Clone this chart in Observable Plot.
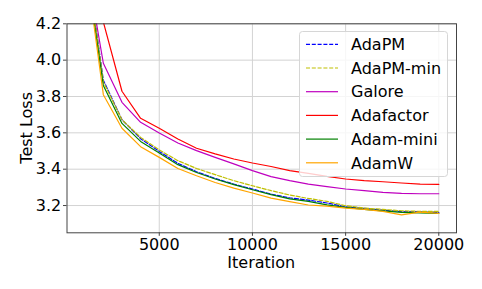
<!DOCTYPE html>
<html><head><meta charset="utf-8">
<script src="https://cdn.jsdelivr.net/npm/d3@7"></script>
<script src="https://cdn.jsdelivr.net/npm/@observablehq/plot@0.6"></script>
<style>html,body{margin:0;padding:0;background:#fff} svg{display:block}</style>
</head><body><div id="chart"></div>
<script>
const iterations = [1000,2000,3000,4000,5000,6000,7000,8000,9000,10000,11000,12000,13000,14000,15000,16000,17000,18000,19000,20000];
const adapm     = [4.62,3.89,3.672,3.568,3.498,3.432,3.386,3.349,3.318,3.291,3.263,3.242,3.230,3.214,3.193,3.184,3.175,3.166,3.166,3.162];
const adapmMin  = [4.62,3.88,3.672,3.575,3.506,3.447,3.404,3.370,3.337,3.309,3.282,3.258,3.239,3.223,3.199,3.186,3.179,3.171,3.168,3.168];
const galore    = [4.58,3.983,3.768,3.658,3.599,3.544,3.502,3.465,3.429,3.392,3.359,3.337,3.318,3.304,3.291,3.282,3.272,3.267,3.265,3.265];
const adafactor = [4.90,4.21,3.829,3.680,3.625,3.566,3.515,3.484,3.456,3.434,3.415,3.392,3.377,3.360,3.346,3.337,3.331,3.324,3.318,3.316];
const adamMini  = [4.57,3.86,3.652,3.553,3.489,3.425,3.382,3.346,3.315,3.287,3.260,3.237,3.223,3.204,3.190,3.179,3.171,3.162,3.160,3.157];
const adamw     = [4.57,3.81,3.625,3.524,3.465,3.404,3.364,3.327,3.296,3.269,3.241,3.222,3.203,3.197,3.186,3.179,3.168,3.149,3.164,3.157];

const seriesNames  = ["AdaPM","AdaPM-min","Galore","Adafactor","Adam-mini","AdamW"];
const seriesColors = ["#0000ff","#bfbf00","#bf00bf","#ff0000","#008000","#ffa500"];
const seriesDashed = [true,true,false,false,false,false];
const xTicks = [5000,10000,15000,20000];
const yTicks = [3.2,3.4,3.6,3.8,4.0,4.2];
const xLabel = "Iteration";
const yLabel = "Test Loss";

const seriesValues = [adapm, adapmMin, galore, adafactor, adamMini, adamw];
const rows = seriesNames.flatMap((name, i) => iterations.map((it, j) => ({name, it, loss: seriesValues[i][j]})));

const W = 482, H = 289, mL = 66.5, mR = 26, mT = 23.3, mB = 56.7;
const font = "DejaVu Sans";

const lineMarks = seriesNames.map((name, i) => Plot.line(rows.filter(d => d.name === name), {
  x: "it", y: "loss", stroke: seriesColors[i], strokeWidth: 1.2,
  strokeDasharray: seriesDashed[i] ? "4,1.8" : null, clip: true
}));

const chart = Plot.plot({
  width: W, height: H, marginLeft: mL, marginRight: mR, marginTop: mT, marginBottom: mB,
  style: {fontFamily: font, fontSize: "16px", background: "#fff", color: "#000", overflow: "visible"},
  x: {domain: [50, 20950]},
  y: {domain: [3.05, 4.2]},
  marks: [
    Plot.gridX(xTicks, {stroke: "#d3d3d3", strokeOpacity: 1, strokeWidth: 1}),
    Plot.gridY(yTicks, {stroke: "#d3d3d3", strokeOpacity: 1, strokeWidth: 1}),
    ...lineMarks,
    Plot.frame({stroke: "#444", strokeWidth: 1}),
    Plot.axisX(xTicks, {tickSize: 3.5, tickPadding: 2.2, tickFormat: d => String(d), label: null, stroke: "#444"}),
    Plot.axisY(yTicks, {tickSize: 3.5, tickPadding: 2.3, tickFormat: d => d.toFixed(1), label: null, stroke: "#444"})
  ]
});
document.getElementById("chart").appendChild(chart);

const svg = d3.select(chart);
svg.append("text").attr("x", (mL + W - mR) / 2).attr("y", 267.5)
  .attr("text-anchor", "middle").attr("font-family", font).attr("font-size", 16).attr("fill", "#000").text(xLabel);
svg.append("text").attr("transform", `translate(31.5,${(mT + H - mB) / 2}) rotate(-90)`)
  .attr("text-anchor", "middle").attr("font-family", font).attr("font-size", 16).attr("fill", "#000").text(yLabel);

// legend
const lg = svg.append("g");
lg.append("rect").attr("x", 299.5).attr("y", 31.5).attr("width", 148).attr("height", 145).attr("rx", 3)
  .attr("fill", "#fff").attr("fill-opacity", 0.8).attr("stroke", "#d6d6d6").attr("stroke-width", 1);
seriesNames.forEach((name, i) => {
  const yy = 44.3 + i * 23.7;
  lg.append("line").attr("x1", 306).attr("x2", 338).attr("y1", yy).attr("y2", yy)
    .attr("stroke", seriesColors[i]).attr("stroke-width", 1.2)
    .attr("stroke-dasharray", seriesDashed[i] ? "4,1.8" : null);
  lg.append("text").attr("x", 351).attr("y", yy).attr("dy", "0.36em").attr("text-anchor", "start")
    .attr("font-family", font).attr("font-size", 16).attr("fill", "#000").text(name);
});
</script></body></html>
